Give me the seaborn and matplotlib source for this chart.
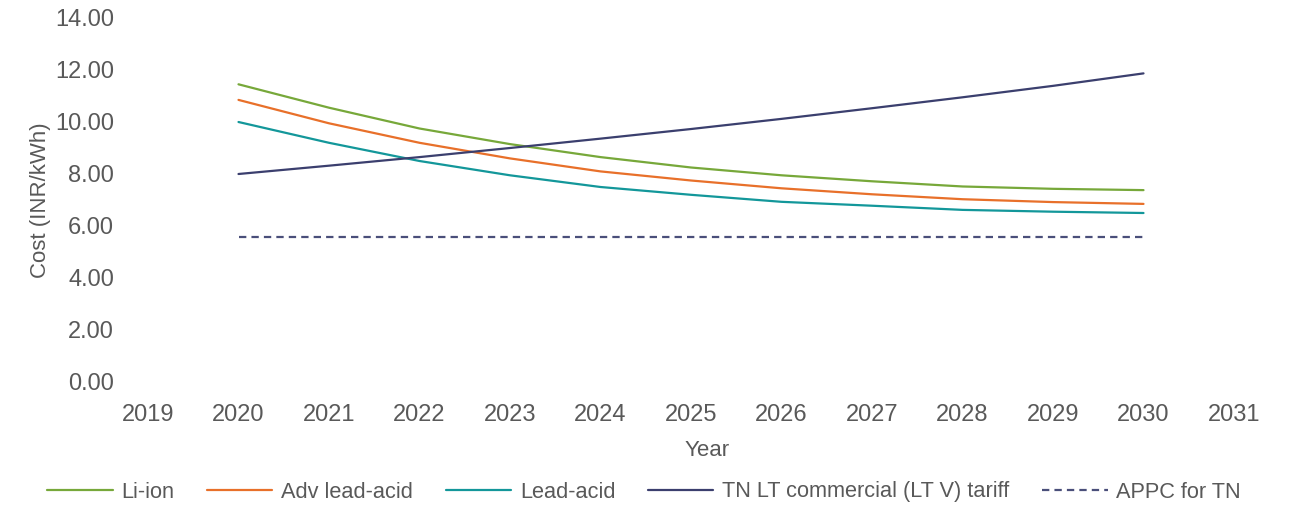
import matplotlib
matplotlib.use("Agg")
import matplotlib.pyplot as plt
import seaborn as sns
import pandas as pd

years = [2020, 2021, 2022, 2023, 2024, 2025, 2026, 2027, 2028, 2029, 2030]
li_ion = [11.45, 10.55, 9.75, 9.15, 8.65, 8.25, 7.95, 7.72, 7.52, 7.43, 7.38]
adv_lead_acid = [10.85, 9.95, 9.20, 8.60, 8.10, 7.75, 7.45, 7.22, 7.03, 6.92, 6.85]
lead_acid = [10.00, 9.20, 8.50, 7.95, 7.50, 7.20, 6.93, 6.78, 6.62, 6.55, 6.50]
tn_tariff = [8.00, 8.32, 8.65, 9.00, 9.36, 9.73, 10.12, 10.53, 10.95, 11.39, 11.87]
appc = [5.58] * 11

series_names = ["Li-ion", "Adv lead-acid", "Lead-acid",
                "TN LT commercial (LT V) tariff", "APPC for TN"]
series_values = [li_ion, adv_lead_acid, lead_acid, tn_tariff, appc]
colors = ["#77a83a", "#e8702a", "#13979a", "#3b3f6e", "#4a4f7a"]
styles = ["-", "-", "-", "-", "--"]

x_ticks = list(range(2019, 2032))
y_ticks = [0, 2, 4, 6, 8, 10, 12, 14]

sns.set_theme(style="white")
plt.rcParams['font.family'] = ['Liberation Sans', 'DejaVu Sans']

W, H = 1301, 508
fig = plt.figure(figsize=(W / 100, H / 100), dpi=100)
left_px, right_px, top_px, bot_px = 125, 1290, 18, 382
ax = fig.add_axes([left_px / W, 1 - bot_px / H, (right_px - left_px) / W, (bot_px - top_px) / H])

for name, vals, c, ls in zip(series_names, series_values, colors, styles):
    df = pd.DataFrame({"Year": years, "Cost": vals})
    sns.lineplot(data=df, x="Year", y="Cost", ax=ax, color=c, linewidth=1.6,
                 label=name, linestyle=ls)
    if ls == "--":
        ax.lines[-1].set_dashes((3.3, 2.3))

px_per_year = 90.5
ax.set_xlim(2019 - (148 - left_px) / px_per_year, 2031 + (right_px - 1234) / px_per_year)
ax.set_ylim(0, 14)
ax.set_xticks(x_ticks)
ax.set_xticklabels([str(x) for x in x_ticks])
ax.set_yticks(y_ticks)
ax.set_yticklabels([f"{v:.2f}" for v in y_ticks])
ax.tick_params(axis="both", labelsize=17, colors="#595959", length=0)
ax.tick_params(axis="x", pad=16)
ax.tick_params(axis="y", pad=8)
for s in ax.spines.values():
    s.set_visible(False)
ax.grid(False)

ax.set_xlabel("Year", fontsize=16, color="#595959", labelpad=10)
ax.set_ylabel("Cost (INR/kWh)", fontsize=16, color="#595959", labelpad=3)

ax.legend_.remove()
handles, labels = ax.get_legend_handles_labels()
fig.legend(handles, labels, loc="center", bbox_to_anchor=(0.495, 1 - 492 / H), ncol=5,
           frameon=False, fontsize=15.7, handlelength=3.0, columnspacing=1.5,
           handletextpad=0.4, labelcolor="#595959")

fig.savefig("out.png", dpi=100, facecolor="white")
